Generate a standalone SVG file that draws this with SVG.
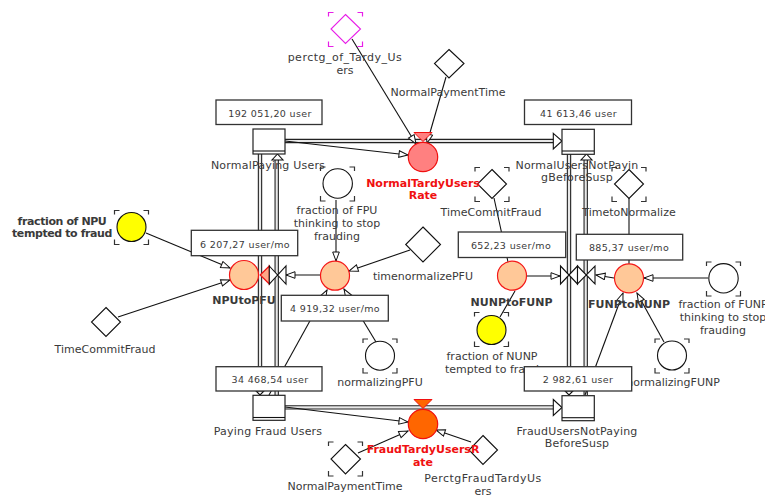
<svg xmlns="http://www.w3.org/2000/svg" width="765" height="497" viewBox="0 0 765 497">
<style>
text{font-family:"DejaVu Sans",Verdana,sans-serif;font-size:11px;fill:#3a3a3a;text-anchor:middle}
.w{letter-spacing:.2px}
.ww{letter-spacing:.5px}
.b{font-weight:bold}
.bn{letter-spacing:-.4px}
.r{font-weight:bold;fill:#f01010}
.v{font-size:9.5px;letter-spacing:.35px}
.s,.val{fill:#fff;stroke:#222;stroke-width:1.2}
.val{stroke:#333;stroke-width:1.3}
.d,.c,.y{fill:#fff;stroke:#111;stroke-width:1.1}
.y{fill:#ffff00}
.f{fill:#ffc898;stroke:#f41818;stroke-width:1.2}
.br{fill:none;stroke:#333;stroke-width:1.2}
.l{fill:none;stroke:#111;stroke-width:1.1;marker-end:url(#a)}
.n{fill:none;stroke:#111;stroke-width:1.1}
.po{fill:none;stroke:#222;stroke-width:4.4}
.pi{fill:none;stroke:#e8e8e8;stroke-width:2.2}
.h{fill:#fff;stroke:#111;stroke-width:1.1}
</style>
<defs>
<marker id="a" markerUnits="userSpaceOnUse" markerWidth="11" markerHeight="9" refX="10" refY="4" orient="auto"><path d="M1 .7L10 4L1 7.3Z" fill="#fff" stroke="#111" stroke-width="1"/></marker>
<path id="cb" d="M0 4V0H5M29 0H34V4M34 29V34H29M5 34H0V29"/>
</defs>
<g id="connectors">
<path class="po" d="M285 141H555M285 407.4H555M260 154V393M276.7 158V395M569 154V393M585.7 158V395"/>
<path class="pi" d="M285 141H555M285 407.4H555M260 154V393M276.7 158V395M569 154V393M585.7 158V395"/>
<path class="h" d="M553.3 133.3L562 141L553.3 149ZM553.3 399.5L562 407.5L553.3 415.5ZM272 160H283L277.5 154ZM581 160H592L586.500 154ZM256 391H264L260 395ZM565 391H573L569 395Z"/>
<path class="l" d="M352 39L416 144"/>
<path class="l" d="M446 77L427 143"/>
<path class="l" d="M285 141L408 155"/>
<path class="l" d="M146 233L230 268"/>
<path class="l" d="M118 317L230 280"/>
<path class="l" d="M336 200V261"/>
<path class="l" d="M410 250L349 271"/>
<path class="l" d="M320 275H286"/>
<path class="l" d="M376 342L344 289"/>
<path class="l" d="M269 395L327 290"/>
<path class="l" d="M708 278H644"/>
<path class="l" d="M614 278L596 275"/>
<path class="l" d="M527 276H560"/>
<path class="l" d="M664 342L637 293"/>
<path class="l" d="M585 395L623 293"/>
<path class="l" d="M285 407L408 422"/>
<path class="l" d="M358 453L408 431"/>
<path class="l" d="M471 442L436 430"/>
<path class="n" d="M500 317L515 291M494 198L508 262M629 198V264"/>
</g>
<g id="npuValve"><path d="M260.200 275L269.300 266V284Z" fill="#ffa888" stroke="#f01010" stroke-width="1.200"/><path class="h" d="M269.300 266L286 284V266L269.300 284Z"/></g>
<g id="funpValve"><path class="h" d="M560.500 266L577.500 284V266L560.500 284Z"/><path class="h" d="M577.500 266L595 284V266L577.500 284Z"/></g>
<g id="NormalPayingUsers"><text class="w" x="268" y="169">NormalPaying Users</text><rect class="s" x="253" y="129" width="32" height="25"/><path class="n" d="M253 151H285"/><rect class="val" x="216" y="100" width="106" height="24.500"/><text class="v" x="270" y="117">192 051,20 user</text></g>
<g id="NormalUsersNotPaying"><text class="w" x="577" y="169">NormalUsersNotPayin</text><text class="w" x="577" y="181">gBeforeSusp</text><rect class="s" x="562" y="129.300" width="32.300" height="25"/><path class="n" d="M562 151H594"/><rect class="val" x="524.500" y="100" width="107" height="24.500"/><text class="v" x="578.500" y="117">41 613,46 user</text></g>
<g id="perctgTardy"><path class="d" style="stroke:#e81ee8" d="M345.500 14.500L360.500 29L345.500 43.500L331 29Z"/><use href="#cb" x="328.500" y="12.500" style="fill:none;stroke:#e81ee8;stroke-width:1.200"/><text class="ww" x="345" y="61">perctg_of_Tardy_Us</text><text x="345" y="74">ers</text></g>
<g id="NormalPaymentTime1"><path class="d" d="M449 49.500L464 63.500L449 78L434.500 63.500Z"/><text x="448" y="96">NormalPaymentTime</text></g>
<g id="fractionFPU"><circle class="c" cx="337.700" cy="183.500" r="14.700"/><use class="br" href="#cb" x="320.500" y="167"/><text x="337" y="214">fraction of FPU</text><text x="337" y="227">thinking to stop</text><text x="337" y="240">frauding</text></g>
<g id="fractionNPU"><circle class="y" cx="131.500" cy="227" r="14.500"/><use class="br" href="#cb" x="114.500" y="210.500"/><text class="b bn" x="62" y="225">fraction of NPU</text><text class="b bn" x="62" y="237">tempted to fraud</text></g>
<g id="TimeCommitFraud1"><path class="d" d="M106 307.500L120.500 322L106 336.500L91.500 322Z"/><text x="105" y="353">TimeCommitFraud</text></g>
<g id="NPUtoPFU"><circle class="f" cx="244" cy="275" r="14.500"/><text class="b" x="244" y="304">NPUtoPFU</text><rect class="val" x="191.300" y="230.300" width="106.400" height="25.400"/><text class="v" x="245" y="248">6 207,27 user/mo</text></g>
<g id="timenormalizePFU"><path class="d" d="M423 227L440.500 244.500L423 262L405.700 244.500Z"/><text x="423" y="280">timenormalizePFU</text></g>
<g id="PFUtoNPU"><circle class="f" cx="335" cy="275.700" r="14.500"/><rect class="val" x="281.300" y="295.300" width="107" height="25.700"/><text class="v" x="335" y="312">4 919,32 user/mo</text></g>
<g id="normalizingPFU"><circle class="c" cx="380" cy="355.700" r="14.500"/><use class="br" href="#cb" x="363" y="339"/><text x="380" y="386">normalizingPFU</text></g>
<g id="PayingFraudUsers"><text class="w" x="268" y="435">Paying Fraud Users</text><rect class="val" x="216" y="366.700" width="106" height="24.300"/><text class="v" x="270" y="383">34 468,54 user</text><rect class="s" x="253" y="395.300" width="32" height="25"/><path class="n" d="M253 417.500H285"/></g>
<g id="TimeCommitFraud2"><path class="d" d="M492 169.500L506.500 184L492 198.500L477.500 184Z"/><use class="br" href="#cb" x="475" y="167.500"/><text x="491" y="216">TimeCommitFraud</text></g>
<g id="NormalTardyUsersRate"><path d="M414 132.500H432L423 141.500Z" fill="#ff8080" stroke="#f01010" stroke-width="1"/><circle cx="423" cy="157" r="14.700" fill="#ff8080" stroke="#f01010" stroke-width="1.200"/><text class="r" x="423" y="187">NormalTardyUsers</text><text class="r" x="423" y="199">Rate</text></g>
<g id="TimetoNormalize"><path class="d" d="M629 169.500L643.500 184L629 198.500L614.500 184Z"/><use class="br" href="#cb" x="612" y="167.500"/><text x="629" y="216">TimetoNormalize</text></g>
<g id="NUNPtoFUNP"><circle class="f" cx="512" cy="275.700" r="14.500"/><text class="b" x="511.500" y="306">NUNPtoFUNP</text><rect class="val" x="458.300" y="232" width="107.400" height="25.500"/><text class="v" x="511" y="249">652,23 user/mo</text></g>
<g id="FUNPtoNUNP"><circle class="f" cx="629" cy="278.300" r="14.500"/><text class="b" x="629" y="308">FUNPtoNUNP</text><rect class="val" x="576.300" y="234.300" width="106.400" height="25.700"/><text class="v" x="629" y="251">885,37 user/mo</text></g>
<g id="fractionFUNP"><circle class="c" cx="723.500" cy="278.300" r="14.700"/><use class="br" href="#cb" x="706.500" y="262"/><text x="723" y="308">fraction of FUNP</text><text x="723" y="321">thinking to stop</text><text x="723" y="334">frauding</text></g>
<g id="fractionNUNP"><circle class="y" cx="491.500" cy="330" r="14.500"/><use class="br" href="#cb" x="474.500" y="312.500"/><text x="492" y="360">fraction of NUNP</text><text x="492" y="373">tempted to fraud</text></g>
<g id="normalizingFUNP"><circle class="c" cx="672" cy="355.500" r="14.500"/><use class="br" href="#cb" x="655" y="339"/><text x="673" y="386">normalizingFUNP</text></g>
<g id="FraudUsersNotPaying"><rect class="val" x="524.300" y="366.700" width="107.400" height="24.300"/><text class="v" x="578" y="383">2 982,61 user</text><rect class="s" x="562" y="395.700" width="32.300" height="25"/><path class="n" d="M562 417.700H594"/><text class="w" x="577" y="435">FraudUsersNotPaying</text><text class="w" x="577" y="447">BeforeSusp</text></g>
<g id="NormalPaymentTime2"><path class="d" d="M345.500 444.500L360.500 459L345.500 474L331 459Z"/><use class="br" href="#cb" x="328.500" y="442"/><text x="345" y="490">NormalPaymentTime</text></g>
<g id="PerctgFraudTardyUsers"><path class="d" d="M483 435.500L497.500 450L483 464.500L469 450Z"/><text class="ww" x="483" y="482">PerctgFraudTardyUs</text><text x="483" y="495">ers</text></g>
<g id="FraudTardyUsersRate"><path d="M414 399.500H432L423 408.500Z" fill="#ff6600" stroke="#f01010" stroke-width="1"/><circle cx="423" cy="424" r="14.700" fill="#ff6600" stroke="#f01010" stroke-width="1.200"/><text class="r" x="423" y="453">FraudTardyUsersR</text><text class="r" x="423" y="466">ate</text></g>
</svg>
